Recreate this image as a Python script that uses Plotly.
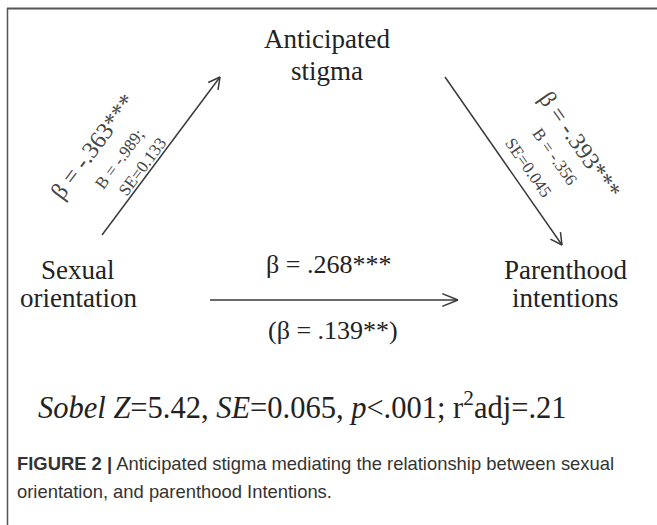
import numpy as np
import plotly.graph_objects as go

# ---- data (diagram content) ----
node_labels = ["Anticipated<br>stigma", "Sexual<br>orientation", "Parenthood<br>intentions"]
path_a_text = ["β = -.363***", "B = -.989;", "SE=0.133"]
path_b_text = ["β = -.393***", "B = -.356", "SE=0.045"]
path_c_text = ["β = .268***", "(β = .139**)"]
sobel_text = "<i>Sobel Z</i>=5.42, <i>SE</i>=0.065, <i>p</i>&lt;.001; r<sup>2</sup>adj=.21"
caption_lines = ["<b>FIGURE 2 |</b> Anticipated stigma mediating the relationship between sexual",
                 "orientation, and parenthood Intentions."]

W, H = 657, 525
SERIF = "Liberation Serif, Times New Roman, serif"
SANS = "Liberation Sans, Arial, sans-serif"
LINE = "#3a3a3a"

fig = go.Figure()
fig.add_trace(go.Scatter(x=[0, W], y=[0, H], mode="markers", marker=dict(opacity=0), hoverinfo="skip", showlegend=False))

shapes = []
annotations = []

def line(x0, y0, x1, y1, width=1.5, color=LINE):
    shapes.append(dict(type="line", xref="x", yref="y", x0=x0, y0=y0, x1=x1, y1=y1,
                       line=dict(color=color, width=width)))

def arrow(p0, p1, head=13, ang=28):
    x0, y0 = p0; x1, y1 = p1
    line(x0, y0, x1, y1)
    d = np.array([x1 - x0, y1 - y0], float)
    d /= np.linalg.norm(d)
    for s in (1, -1):
        a = np.radians(ang) * s
        r = np.array([d[0] * np.cos(a) - d[1] * np.sin(a), d[0] * np.sin(a) + d[1] * np.cos(a)])
        line(x1, y1, x1 - head * r[0], y1 - head * r[1])

def text(x, y, t, size, font=SERIF, color="#222", xanchor="center", angle=0):
    annotations.append(dict(x=x, y=y, xref="x", yref="y", text=t, showarrow=False,
                            xanchor=xanchor, yanchor="middle", textangle=angle,
                            font=dict(family=font, size=size, color=color)))

# frame
line(7, 8.5, W, 8.5, width=2.2, color="#555")
line(7.5, 8, 7.5, H, width=1.5, color="#555")

# nodes
node_pos = [(327, 39, 71), (78, 270, 298), (565, 270, 298)]
for lab, (cx, y1, y2) in zip(node_labels, node_pos):
    a, b = lab.split("<br>")
    text(cx, y1, a, 27)
    text(cx, y2, b, 27)

# path a (left)
A0, A1 = (102, 235), (220, 77)
arrow(A0, A1)
dA = np.array([A1[0] - A0[0], A1[1] - A0[1]], float); dA /= np.linalg.norm(dA)
nA = np.array([dA[1], -dA[0]])  # upper-left normal
angA = np.degrees(np.arctan2(dA[1], dA[0]))
for t, along, perp, sz in zip(path_a_text, [66, 72, 79], [60, 31, 8], [24, 17, 17]):
    p = np.array(A0) + dA * along + nA * perp
    text(p[0], p[1], t, sz, color="#444", angle=angA)

# path b (right)
B0, B1 = (445, 77), (562, 245)
arrow(B0, B1)
dB = np.array([B1[0] - B0[0], B1[1] - B0[1]], float); dB /= np.linalg.norm(dB)
nB = np.array([dB[1], -dB[0]])  # upper-right normal
angB = np.degrees(np.arctan2(dB[1], dB[0]))
for t, along, perp, sz in zip(path_b_text, [133, 128, 122], [72, 44, 16], [24, 17, 17]):
    p = np.array(B0) + dB * along + nB * perp
    text(p[0], p[1], t, sz, color="#444", angle=angB)

# path c (horizontal)
arrow((210, 300), (458, 300), head=17, ang=22)
text(328, 264, path_c_text[0], 26)
text(333, 330, path_c_text[1], 26)

# sobel
text(36, 405, sobel_text, 30.5, xanchor="left")

# caption
text(15, 463, caption_lines[0], 18.4, font=SANS, color="#333", xanchor="left")
text(15, 491, caption_lines[1], 18.4, font=SANS, color="#333", xanchor="left")

fig.update_layout(width=W, height=H, margin=dict(l=0, r=0, t=0, b=0),
                  paper_bgcolor="white", plot_bgcolor="white",
                  xaxis=dict(range=[0, W], visible=False, fixedrange=True),
                  yaxis=dict(range=[H, 0], visible=False, fixedrange=True),
                  shapes=shapes, annotations=annotations, showlegend=False)
fig.write_html("out.html", config={"displayModeBar": False},
               post_script="document.body.style.margin='0px';document.body.style.overflow='hidden';")
